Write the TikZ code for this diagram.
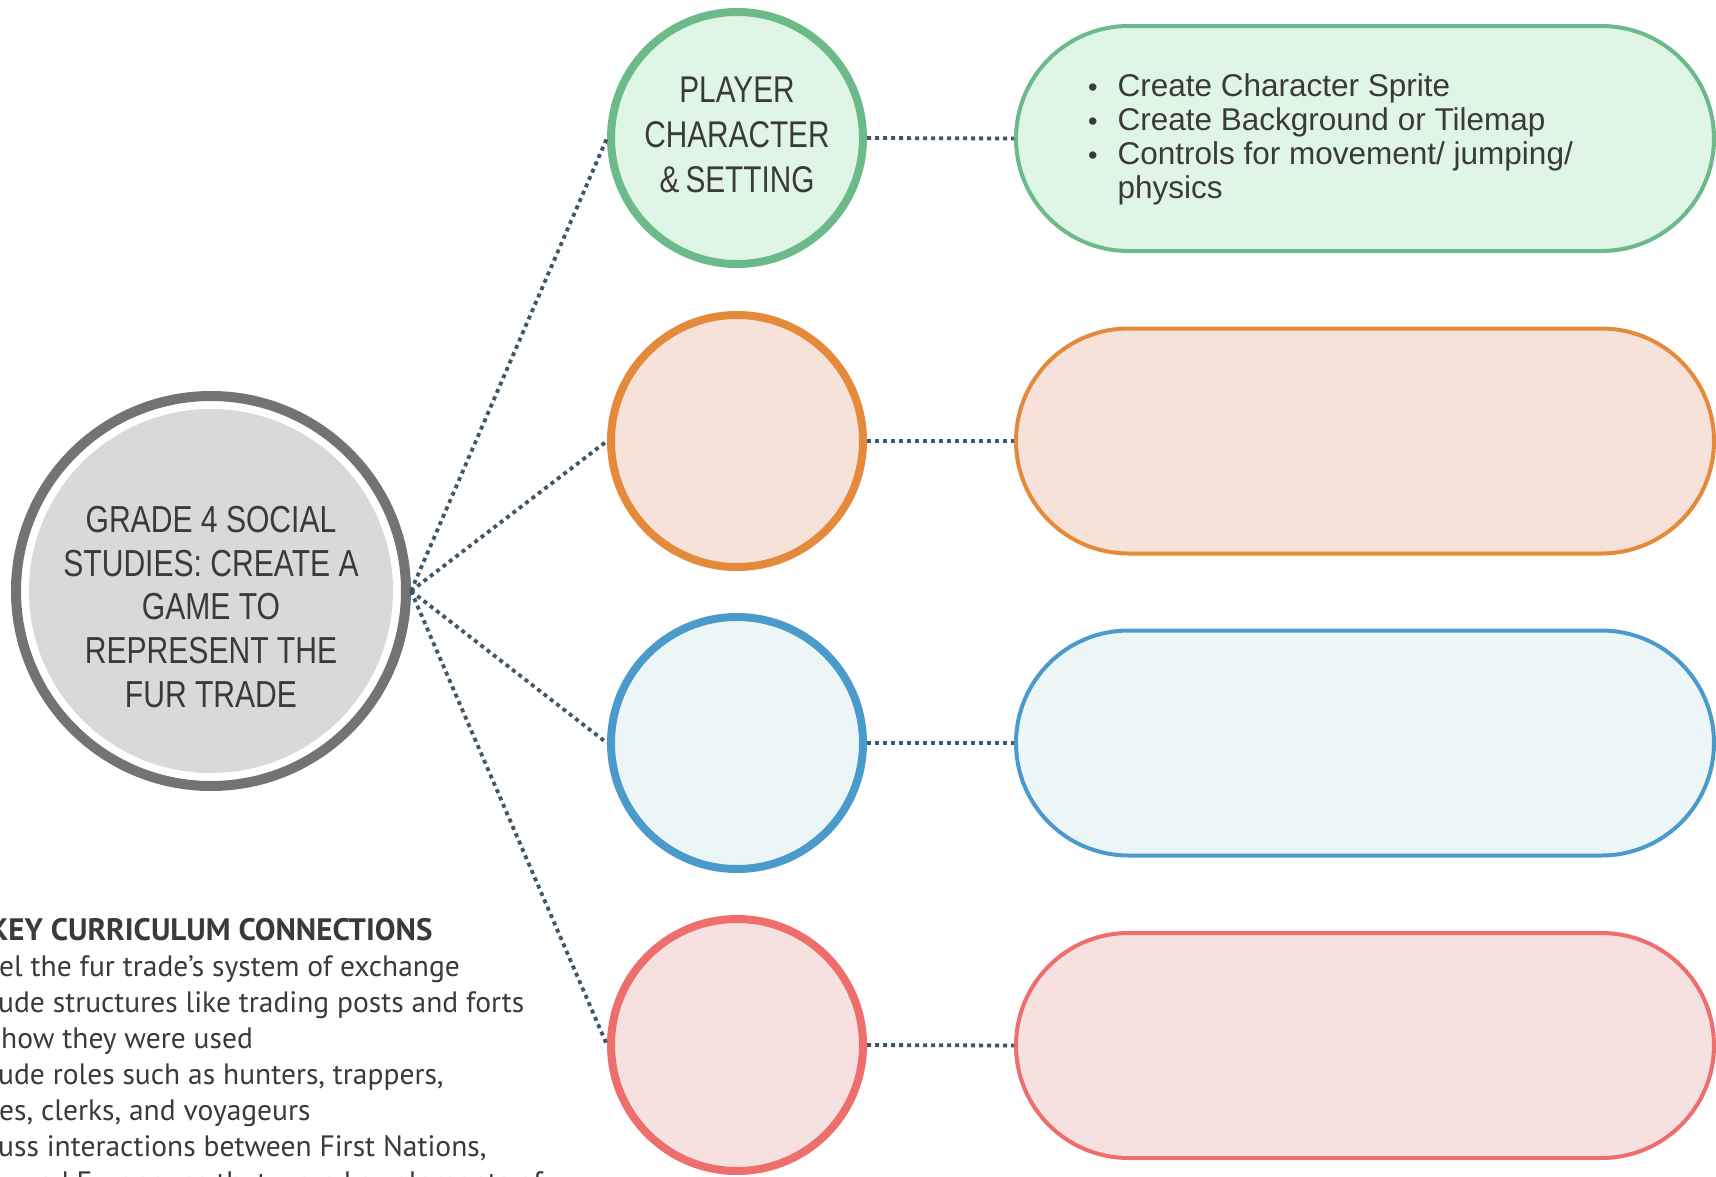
\documentclass[tikz,border=0pt]{standalone}
\usepackage{fontspec}
\setmainfont{Liberation Sans}
\newfontfamily\condfont[FakeStretch=0.8]{Liberation Sans}
\newfontfamily\listfont{PT Sans}
\usetikzlibrary{shapes.misc}
\definecolor{ringgrey}{HTML}{737373}
\definecolor{hubfill}{HTML}{D9D9D9}
\definecolor{txt}{HTML}{3A3A3A}
\definecolor{conncol}{HTML}{3D586B}
\definecolor{gstroke}{HTML}{6CBA8A}
\definecolor{gfill}{HTML}{DFF5E6}
\definecolor{ostroke}{HTML}{E5893B}
\definecolor{ofill}{HTML}{F7E2D9}
\definecolor{bstroke}{HTML}{4A9BCC}
\definecolor{bfill}{HTML}{ECF6F7}
\definecolor{rstroke}{HTML}{EE6D6D}
\definecolor{rfill}{HTML}{F6E0E0}
\tikzset{
  smallcirc/.style={circle, line width=8pt, minimum size=252pt, inner sep=0pt},
  pill/.style={rounded rectangle, line width=4pt, minimum width=698pt, minimum height=225pt, inner sep=0pt},
  conn/.style={conncol, line width=3.8pt, dash pattern=on 4pt off 4pt},
  listline/.style={anchor=base west, inner sep=0pt, text=txt, font=\listfont\fontsize{29.5}{36}\selectfont}
}
\newcommand{\mybul}{{\fontsize{27}{27}\selectfont\textbullet}}
\begin{document}
\begin{tikzpicture}[x=1pt,y=-1pt]
\clip (0,0) rectangle (1716,1176);
\fill[white] (0,0) rectangle (1716,1176);

% hub
\node[circle, draw=ringgrey, line width=10pt, fill=white, minimum size=390pt, inner sep=0pt] (hub) at (211,591) {};
\node[circle, fill=hubfill, minimum size=364pt, inner sep=0pt] (hubin) at (211,591) {};
\node[inner sep=0pt, align=center, text=txt, font=\condfont\fontsize{37.6}{43.8}\selectfont] (hubtext) at (211,607)
  {GRADE 4 SOCIAL\\STUDIES: CREATE A\\GAME TO\\REPRESENT THE\\FUR TRADE};

% small circles
\node[smallcirc, draw=gstroke, fill=gfill] (c1) at (737,138) {};
\node[inner sep=0pt, align=center, text=txt, font=\condfont\fontsize{37.2}{45}\selectfont] (c1text) at (737,135)
  {PLAYER\\CHARACTER\\\&\,SETTING};
\node[smallcirc, draw=ostroke, fill=ofill] (c2) at (737,441) {};
\node[smallcirc, draw=bstroke, fill=bfill] (c3) at (737,743) {};
\node[smallcirc, draw=rstroke, fill=rfill] (c4) at (737,1045) {};

% pills
\node[pill, draw=gstroke, fill=gfill] (p1) at (1365,138.5) {};
\node[pill, draw=ostroke, fill=ofill] (p2) at (1365,441) {};
\node[pill, draw=bstroke, fill=bfill] (p3) at (1365,743) {};
\node[pill, draw=rstroke, fill=rfill] (p4) at (1365,1045.5) {};

% connectors
\draw[conn] (hub.east) -- (c1.west);
\draw[conn] (hub.east) -- (c2.west);
\draw[conn] (hub.east) -- (c3.west);
\draw[conn] (hub.east) -- (c4.west);
\draw[conn] (c1.east) -- (p1.west);
\draw[conn] (c2.east) -- (p2.west);
\draw[conn] (c3.east) -- (p3.west);
\draw[conn] (c4.east) -- (p4.west);

% bullet list in first pill
\node[anchor=base west, inner sep=0pt, text=txt, font=\fontsize{31.5}{34}\selectfont] (plist) at (1088,96)
  {\begin{tabular}[t]{@{}l@{\hspace{20pt}}l@{}}
   \mybul & Create Character Sprite\\
   \mybul & Create Background or Tilemap\\
   \mybul & Controls for movement/ jumping/\\
   & physics
   \end{tabular}};

% curriculum text
\node[listline, font=\listfont\bfseries\fontsize{31}{36}\selectfont] (k0) at (-11,940) {KEY CURRICULUM CONNECTIONS};
\node[listline] (k1) at (-1,976) {el the fur trade’s system of exchange};
\node[listline] (k2) at (-2,1012) {ude structures like trading posts and forts};
\node[listline] (k3) at (1,1048) {how they were used};
\node[listline] (k4) at (-2,1084) {ude roles such as hunters, trappers,};
\node[listline] (k5) at (-1,1120) {es, clerks, and voyageurs};
\node[listline] (k6) at (-2,1156) {uss interactions between First Nations,};
\node[listline] (k7) at (22,1192) {and Europeans that were key elements of};
\end{tikzpicture}
\end{document}
